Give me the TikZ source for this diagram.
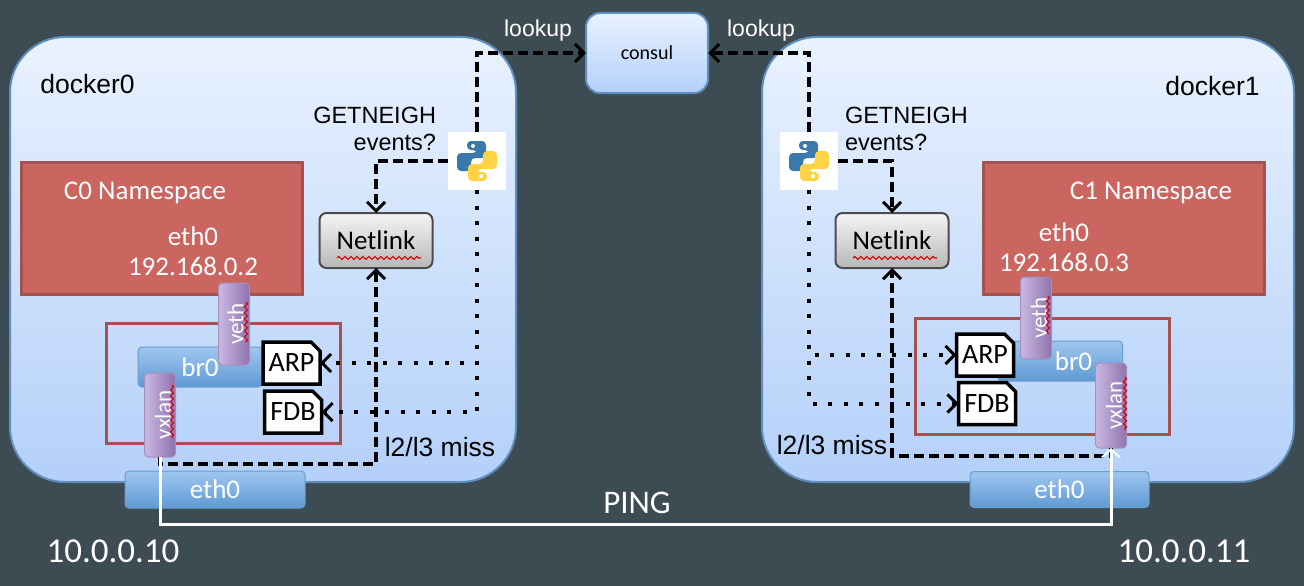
\documentclass[tikz,border=0pt]{standalone}
\usepackage{fontspec}
\setmainfont{Liberation Sans}
\newfontfamily\calfont{Carlito}
\usetikzlibrary{arrows.meta,shapes.misc,decorations.pathmorphing}
\definecolor{bgdark}{HTML}{3D4C53}
\definecolor{hostedge}{HTML}{5F8FBF}
\definecolor{hosttop}{HTML}{E9F2FF}
\definecolor{hostbottom}{HTML}{B4D0F9}
\definecolor{redfill}{HTML}{CA6560}
\definecolor{rededge}{HTML}{A5514F}
\definecolor{bartop}{HTML}{A0C6F0}
\definecolor{barbottom}{HTML}{5E9AD3}
\definecolor{baredge}{HTML}{6E9CC9}
\definecolor{portleft}{HTML}{CBB8E3}
\definecolor{portright}{HTML}{8F73AD}
\definecolor{pybluec}{HTML}{3B78AB}
\definecolor{pyyellowc}{HTML}{FFD343}
\newcommand{\sz}[1]{\fontsize{#1}{#1}\selectfont}
\newcommand{\pylogo}[1]{%
    \begin{scope}[shift={(#1)}]
        \fill[pyblue] (-10,-20) -- (9,-20) -- (9,-3) -- (-6,-3) -- (-6,10) -- (-20,10) -- (-20,-8) -- (0,-8) -- (0,-11) -- (-10,-11) -- cycle;
        \fill[pyyellow] (10,20) -- (-9,20) -- (-9,3) -- (6,3) -- (6,-10) -- (20,-10) -- (20,8) -- (0,8) -- (0,11) -- (10,11) -- cycle;
        \fill[white] (-4,-15) circle (2pt) (4,15) circle (2pt);
    \end{scope}}

\begin{document}
\begin{tikzpicture}[
    x=1pt, y=-1pt,
    every node/.style={inner sep=0pt, outer sep=0pt},
    host/.style={draw=hostedge, line width=2pt, top color=hosttop, bottom color=hostbottom, rounded corners=55pt, minimum width=#1, minimum height=445pt},
    consulbox/.style={draw=hostedge, line width=2pt, top color=hosttop, bottom color=hostbottom, rounded corners=14pt, minimum width=122pt, minimum height=80pt, font=\calfont\sz{20}},
    namespace/.style={draw=rededge, line width=3pt, fill=redfill, minimum width=281pt, minimum height=132pt},
    frame/.style={draw=rededge, line width=3pt, minimum width=#1},
    bar/.style={draw=baredge, line width=1pt, top color=bartop, bottom color=barbottom, rounded corners=4pt, text=white, font=\calfont\sz{27}},
    port/.style={draw=portright!80, line width=1pt, left color=portleft, right color=portright, rounded corners=4pt, minimum width=31pt, text=white, font=\calfont\sz{23}},
    netlink/.style={draw=black!70, line width=2pt, top color=black!4, bottom color=black!28, rounded corners=7pt, minimum width=113pt, minimum height=55pt, font=\calfont\sz{27}},
    table/.style={chamfered rectangle, chamfered rectangle corners=north east, chamfered rectangle xsep=4.5pt, chamfered rectangle ysep=4.5pt, draw=black, line width=3.5pt, fill=white, minimum width=57pt, minimum height=42pt, font=\calfont\sz{28}},
    pybox/.style={fill=white, minimum width=58pt, minimum height=58pt},
    pyblue/.style={fill=pybluec, rounded corners=4pt},
    pyyellow/.style={fill=pyyellowc, rounded corners=4pt},
    lab/.style={font=\sz{#1}},
    whitelab/.style={text=white, font=\calfont\sz{#1}},
    dashline/.style={draw=black, line width=3.5pt, dash pattern=on 10pt off 5pt, -{Straight Barb[length=9pt,width=18pt,line width=3pt]}},
    dotline/.style={draw=black, line width=4pt, dash pattern=on 4pt off 11.5pt, -{Straight Barb[length=9pt,width=18pt,line width=3pt]}},
    pingline/.style={draw=white, line width=3pt, -{Straight Barb[length=8pt,width=18pt,line width=2pt]}},
    squiggle/.style={draw=red!85!black, line width=1.2pt, decorate, decoration={snake, amplitude=1.5pt, segment length=6pt}}
]
    \useasboundingbox (0,0) rectangle (1304,586);
    \fill[bgdark] (0,0) rectangle (1304,586);

    % hosts and consul
    \node[host=506pt] (dockerL) at (263,259.5) {};
    \node[host=532pt] (dockerR) at (1028,259.5) {};
    \node[consulbox] (consul) at (647,53) {\raisebox{-3pt}{consul}};
    \node[lab=26.5] (nameL) at (87.5,84) {docker0};
    \node[lab=26.5] (nameR) at (1212.5,86) {docker1};

    % namespaces
    \node[namespace] (nsL) at (161.5,228) {};
    \node[namespace] (nsR) at (1124,228) {};
    \node[whitelab=27] (nsLabelL) at (145,193) {C0 Namespace};
    \node[whitelab=27] (nsLabelR) at (1151,193) {C1 Namespace};
    \node[whitelab=27, align=center] (ipL) at (193,251) {eth0\\[3pt]192.168.0.2};
    \node[whitelab=27, align=center] (ipR) at (1064,247) {eth0\\[3pt]192.168.0.3};

    % bridges
    \node[frame=234pt, minimum height=120pt] (frameL) at (223,383) {};
    \node[frame=254pt, minimum height=116pt] (frameR) at (1042,376) {};
    \node[bar, minimum width=124pt, minimum height=40pt] (brL) at (200,367) {br0};
    \node[bar, minimum width=125pt, minimum height=40pt] (brR) at (1060,361) {\hspace{27pt}br0};
    \node[port, minimum height=82pt] (vethL) at (234,324) {\hspace{3pt}\rotatebox{90}{veth}};
    \node[port, minimum height=82pt] (vethR) at (1036,318) {\hspace{6pt}\rotatebox{90}{veth}};
    \node[port, minimum height=84pt] (vxlanL) at (160,415) {\hspace{6pt}\rotatebox{90}{vxlan}};
    \node[port, minimum height=85pt] (vxlanR) at (1111,405.5) {\hspace{6pt}\rotatebox{90}{vxlan}};
    \node[table] (arpL) at (291.5,363) {ARP};
    \node[table] (fdbL) at (293,412) {FDB};
    \node[table] (arpR) at (985,355) {ARP};
    \node[table] (fdbR) at (987,403.5) {FDB};
    \node[bar, minimum width=180pt, minimum height=37pt] (ethL) at (215,489.5) {\raisebox{-1pt}{eth0}};
    \node[bar, minimum width=179pt, minimum height=36pt] (ethR) at (1059.5,489.5) {\raisebox{-1pt}{eth0}};

    % netlink and the python agents
    \node[netlink] (netL) at (376,240.5) {\raisebox{-4pt}{Netlink}};
    \node[netlink] (netR) at (892,240.5) {\raisebox{-4pt}{Netlink}};
    \node[pybox] (pyL) at (477,161) {};
    \node[pybox] (pyR) at (809,161) {};
    \pylogo{pyL.center}
    \pylogo{pyR.center}

    % spell checker marks
    \draw[squiggle] (337,258) -- (421,258);
    \draw[squiggle] (853,258) -- (937,258);
    \draw[squiggle] (246,302) -- (246,342);
    \draw[squiggle] (1048,296) -- (1048,334);
    \draw[squiggle] (172,385) -- (172,438);
    \draw[squiggle] (1125,377) -- (1125,430);

    % labels
    \node[lab=23.5, align=right, anchor=north east] (getL) at (436,107) {GETNEIGH\\[4pt]events?};
    \node[lab=23.5, align=left, anchor=north west] (getR) at (845,107) {GETNEIGH\\[4pt]events?};
    \node[whitelab=22, font=\sz{23}] (lookL) at (538,31) {lookup};
    \node[whitelab=22, font=\sz{23}] (lookR) at (761,31) {lookup};
    \node[lab=26.5] (missL) at (440,447) {l2/l3 miss};
    \node[lab=26.5] (missR) at (832,445) {l2/l3 miss};
    \node[whitelab=33] (ping) at (637,503) {PING};
    \node[whitelab=35] (addrL) at (113,551) {10.0.0.10};
    \node[whitelab=35] (addrR) at (1184,551) {10.0.0.11};
    \coordinate (wire) at (637,524);

    % connectors
    \draw[dotline] (pyL.south) |- (arpL.east);
    \draw[dotline] (pyL.south) |- (fdbL.east);
    \draw[dotline] (pyR.south) |- (arpR.west);
    \draw[dotline] (pyR.south) |- (fdbR.west);
    \draw[dashline] (pyL.north) |- (consul.west);
    \draw[dashline] (pyR.north) |- (consul.east);
    \draw[dashline] (pyL.west) -| (netL.north);
    \draw[dashline] (pyR.east) -| (netR.north);
    \draw[dashline] (vxlanL.south) -- ++(0,7) -| (netL.south);
    \draw[dashline] (vxlanR.south) -- ++(0,8) -| (netR.south);
    \draw[pingline] (vxlanL.south) |- (wire) -| (vxlanR.south);
\end{tikzpicture}
\end{document}
